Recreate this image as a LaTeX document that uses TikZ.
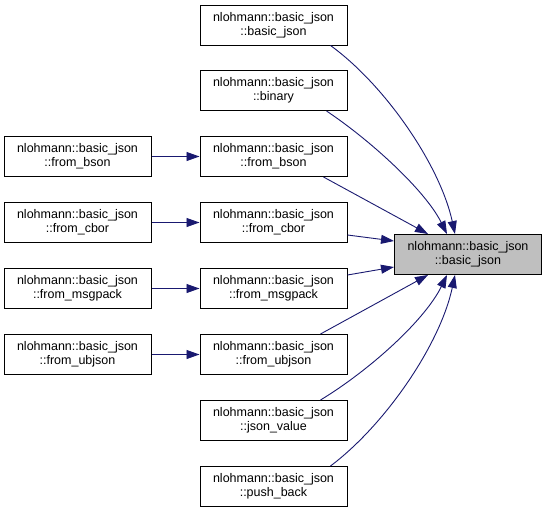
\documentclass[tikz,border=0pt]{standalone}
\usepackage{fontspec}
\setmainfont{Liberation Sans}
\usetikzlibrary{arrows.meta}
\definecolor{edgeblue}{HTML}{191970}
\definecolor{hlgray}{HTML}{BFBFBF}
\begin{document}
\begin{tikzpicture}[x=1pt,y=-1pt,
  fn/.style={draw=black,line width=1pt,rectangle,minimum width=147pt,minimum height=40pt,inner sep=0pt,align=center,font=\fontsize{12.5}{14}\selectfont},
  hl/.style={fn,fill=hlgray},
  ed/.style={draw=edgeblue,line width=0.9pt,-{Triangle[length=13pt,width=9pt]}}]
\useasboundingbox (0,0) rectangle (547,509);
\node[hl] (t) at (468,254.5) {nlohmann::basic\_json\\::basic\_json};
\node[fn] (m0) at (273.5,25) {nlohmann::basic\_json\\::basic\_json};
\node[fn] (m1) at (273.5,90.5) {nlohmann::basic\_json\\::binary};
\node[fn] (m2) at (273.5,156.5) {nlohmann::basic\_json\\::from\_bson};
\node[fn] (m3) at (273.5,222.5) {nlohmann::basic\_json\\::from\_cbor};
\node[fn] (m4) at (273.5,288.5) {nlohmann::basic\_json\\::from\_msgpack};
\node[fn] (m5) at (273.5,354.5) {nlohmann::basic\_json\\::from\_ubjson};
\node[fn] (m6) at (273.5,420.5) {nlohmann::basic\_json\\::json\_value};
\node[fn] (m7) at (273.5,486.5) {nlohmann::basic\_json\\::push\_back};
\node[fn] (l2) at (77.5,156.5) {nlohmann::basic\_json\\::from\_bson};
\node[fn] (l3) at (77.5,222.5) {nlohmann::basic\_json\\::from\_cbor};
\node[fn] (l4) at (77.5,288.5) {nlohmann::basic\_json\\::from\_msgpack};
\node[fn] (l5) at (77.5,354.5) {nlohmann::basic\_json\\::from\_ubjson};
% left to middle
\draw[ed] (l2.east) -- (m2.west);
\draw[ed] (l3.east) -- (m3.west);
\draw[ed] (l4.east) -- (m4.west);
\draw[ed] (l5.east) -- (m5.west);
% middle to target
\draw[ed] ([xshift=-17pt]m0.south east) .. controls (385,85) and (440,165) .. ([xshift=-13pt]t.north);
\draw[ed] ([xshift=-21pt]m1.south east) .. controls (370,140) and (425,190) .. ([xshift=-21pt]t.north);
\draw[ed] ([xshift=-24pt]m2.south east) -- ([xshift=-40pt]t.north);
\draw[ed] ([yshift=-12.5pt]m3.east) -- ([yshift=13.5pt]t.west);
\draw[ed] ([yshift=13.5pt]m4.east) -- ([yshift=-12.5pt]t.west);
\draw[ed] ([xshift=-27pt]m5.north east) -- ([xshift=-40pt]t.south);
\draw[ed] ([xshift=-27pt]m6.north east) .. controls (370,370) and (425,320) .. ([xshift=-21pt]t.south);
\draw[ed] ([xshift=-17pt]m7.north east) .. controls (385,425) and (440,345) .. ([xshift=-13pt]t.south);
\end{tikzpicture}
\end{document}
